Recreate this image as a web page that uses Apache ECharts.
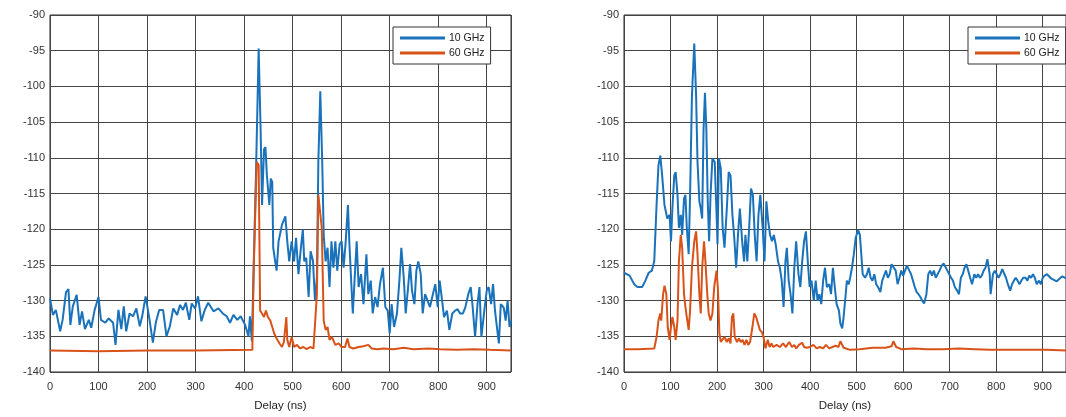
<!DOCTYPE html>
<html>
<head>
<meta charset="utf-8">
<script src="https://cdn.jsdelivr.net/npm/echarts@6/dist/echarts.min.js"></script>
<style>
  html, body { margin: 0; padding: 0; background: #fff; }
  #chart { width: 1066px; height: 417px; }
</style>
</head>
<body>
<div id="chart"></div>
<script>
// Power delay profiles: received power (dB) against delay (ns), two scenarios.
const seriesNames = ['10 GHz', '60 GHz'];
const delayRange = [0, 950];
const delayStep = 100;
const powerRange = [-140, -90];
const powerStep = 5;
const xAxisTitle = 'Delay (ns)';

// Scenario A — [delay ns, power dB]
const leftBlue = [[0,-129.7],[6,-132],[12,-131.3],[21,-134.3],[26,-132.7],[33,-128.8],[38,-128.4],[42,-133.4],[47,-130.8],[55,-129.2],[61,-133.4],[66,-131.5],[72,-134],[80,-132.7],[85,-133.8],[92,-131.3],[100,-129.5],[105,-132.7],[114,-133.1],[121,-132.5],[130,-133.1],[135,-136.2],[141,-131.3],[147,-134],[152,-130.8],[157,-134.3],[164,-131.8],[171,-132.2],[178,-131.1],[185,-133.6],[190,-132.2],[197,-129.4],[204,-132.2],[212,-135.9],[218,-133.1],[225,-131.3],[233,-131.3],[240,-135],[247,-133.6],[254,-131.1],[262,-132],[268,-130.6],[274,-131.3],[280,-130.3],[287,-132.7],[292,-130.4],[299,-131.1],[305,-129.4],[312,-132.9],[319,-131.3],[326,-130.3],[337,-131.5],[347,-131.1],[356,-131.8],[364,-132.2],[371,-133.1],[378,-132],[386,-132.7],[393,-132.2],[402,-133.4],[409,-135],[412,-132.2],[416,-135.7],[419,-135.5],[425,-110.6],[430,-94.7],[434,-106],[437,-116.6],[441,-108.8],[444,-108.5],[447,-112.5],[450,-112.5],[452,-116.6],[455,-112.9],[458,-113.4],[460,-122.6],[464,-124.5],[467,-125.8],[471,-121.7],[478,-119.4],[485,-118.2],[489,-121.7],[493,-124.5],[498,-121.7],[503,-124.5],[507,-121.2],[512,-126.3],[517,-122.6],[521,-120.1],[524,-124.5],[528,-124],[533,-129.5],[537,-123.1],[542,-124.5],[546,-130],[550,-126.8],[553,-110.6],[557,-100.7],[561,-110.6],[564,-120.8],[568,-124.5],[572,-122.6],[576,-128.1],[580,-121.7],[584,-125.4],[588,-121.7],[592,-125.8],[597,-122.1],[601,-121.7],[605,-125.4],[609,-122.1],[614,-116.6],[617,-122.1],[621,-127.7],[624,-131.8],[629,-125.4],[632,-121.7],[636,-128.1],[641,-126.3],[646,-130.5],[652,-123.5],[656,-129.1],[661,-127.2],[665,-131.8],[670,-129.5],[675,-130.9],[680,-127.7],[686,-125.4],[691,-130.9],[696,-131.4],[700,-134.6],[704,-130.5],[709,-133.7],[715,-131.8],[720,-127.2],[724,-122.6],[729,-126.8],[733,-131.8],[738,-128.1],[742,-124.9],[746,-128.6],[751,-130.5],[755,-125.8],[759,-124.5],[764,-126.3],[768,-131.8],[773,-129.1],[778,-130],[783,-130.9],[789,-129.1],[794,-127.7],[799,-130.9],[803,-127.2],[808,-130],[812,-132.3],[818,-131.4],[823,-134.1],[829,-131.8],[835,-131.4],[840,-131.2],[845,-131.8],[851,-131.8],[856,-130.9],[862,-129.1],[867,-128.1],[871,-130.9],[876,-135.1],[881,-130.5],[885,-128.1],[889,-135.1],[895,-131.4],[900,-128.6],[904,-128.1],[909,-130.5],[913,-127.7],[917,-131.4],[921,-133.7],[925,-136],[929,-130.5],[935,-131],[939,-132.8],[943,-130],[947,-133.7],[950,-132.8]];
const leftOrange = [[0,-137],[100,-137.1],[200,-137],[300,-137],[417,-136.9],[420,-125],[426,-110.6],[430,-111],[432,-124.5],[433,-131.4],[437,-131.8],[441,-132.3],[445,-131.4],[449,-132.3],[454,-132.8],[458,-133.7],[462,-134.6],[467,-135.3],[473,-136],[478,-136.5],[482,-135.8],[487,-132.3],[489,-135.5],[493,-136.5],[498,-135.1],[503,-136.5],[509,-136.2],[515,-136.7],[522,-136.5],[529,-136.8],[536,-136.5],[543,-136.7],[547,-136.5],[550,-129.1],[553,-115.2],[557,-115.2],[560,-119.8],[564,-132.8],[568,-134.1],[572,-133.7],[576,-135.5],[581,-135.1],[588,-136.2],[595,-136],[601,-136.5],[608,-136.5],[613,-135.3],[617,-136.5],[625,-136.7],[636,-136.5],[646,-136.4],[656,-136.2],[663,-136.7],[674,-136.8],[687,-136.7],[708,-136.8],[729,-136.6],[749,-136.8],[780,-136.7],[804,-136.8],[838,-136.9],[873,-136.8],[907,-136.9],[950,-137]];

// Scenario B — [delay ns, power dB]
const rightBlue = [[0,-126.1],[12,-126.5],[22,-127.7],[29,-128.1],[39,-128.1],[46,-127.2],[53,-126.1],[60,-125.8],[65,-124.5],[70,-116.6],[74,-111.1],[78,-109.7],[82,-112.5],[87,-116.6],[93,-118.5],[98,-118],[101,-121.7],[104,-117.1],[108,-112.5],[111,-112],[115,-115.2],[118,-119.8],[122,-118],[125,-120.8],[129,-115.7],[132,-115.2],[135,-119.8],[139,-123.5],[142,-115.2],[146,-101.4],[151,-94],[155,-101.4],[158,-110.6],[162,-116.1],[165,-117.1],[168,-118.5],[171,-106],[174,-100.9],[177,-106],[180,-116.1],[183,-121.7],[186,-115.2],[190,-110.1],[195,-110.6],[199,-118],[201,-122.1],[204,-110.1],[208,-111.5],[212,-119.8],[216,-122.6],[221,-117.1],[225,-112],[229,-112.5],[233,-118],[237,-121.2],[241,-125.4],[245,-120.8],[249,-117.1],[254,-121.7],[258,-124.5],[261,-120.8],[265,-124.5],[269,-119.8],[273,-114.3],[277,-115.2],[281,-120.8],[285,-124.5],[289,-118],[293,-115.2],[298,-119.8],[302,-124.5],[306,-116.1],[310,-118.9],[314,-120.8],[318,-121.7],[322,-120.8],[326,-122.1],[331,-124.5],[335,-125.4],[339,-127.2],[343,-130.9],[347,-124.5],[350,-122.6],[354,-127.2],[358,-129.1],[362,-131.8],[366,-125.4],[370,-121.7],[375,-126.3],[379,-128.1],[383,-124.5],[387,-121.7],[391,-120.3],[395,-124.5],[399,-128.1],[403,-127.2],[408,-130],[412,-127.2],[416,-130],[420,-129.1],[424,-130.5],[428,-127.2],[432,-125.4],[436,-128.1],[441,-127.7],[445,-129.1],[449,-125.4],[453,-128.1],[457,-130.5],[462,-131.4],[465,-133.2],[469,-133.9],[472,-132.3],[476,-129.5],[479,-127.2],[483,-127.7],[486,-126.8],[490,-125.4],[494,-123.5],[498,-121.2],[503,-120.1],[507,-120.8],[510,-123.5],[513,-126.3],[518,-126.8],[522,-126.3],[526,-125.4],[530,-126.8],[534,-127.2],[538,-126.3],[542,-127.7],[546,-128.1],[551,-128.8],[555,-127.2],[559,-126.5],[563,-125.8],[567,-126.8],[571,-126.3],[575,-124.9],[579,-124.7],[584,-125.8],[588,-127.7],[592,-126.8],[596,-125.8],[600,-126.5],[604,-126.3],[608,-125.1],[612,-124.9],[617,-126.3],[621,-127.2],[625,-128.1],[629,-128.8],[633,-129.1],[637,-129.5],[641,-130],[645,-130.4],[650,-129.1],[654,-126.3],[658,-125.8],[662,-126.5],[666,-125.8],[670,-126.8],[674,-126.3],[678,-125.8],[683,-125.1],[687,-124.8],[691,-124.9],[695,-125.8],[699,-126.3],[703,-126.8],[707,-127.2],[711,-128.1],[716,-128.6],[720,-129.1],[724,-126.8],[728,-126.3],[732,-125.4],[736,-124.9],[740,-125.1],[744,-126.8],[748,-127.7],[753,-126.3],[757,-126.8],[761,-126.3],[765,-126.8],[769,-126.5],[773,-125.8],[777,-125.4],[781,-124.2],[786,-126.3],[788,-129.1],[793,-126.3],[797,-125.8],[801,-126.3],[805,-126.8],[809,-126.3],[813,-125.6],[817,-125.4],[821,-126.8],[825,-127.7],[830,-128.6],[834,-127.7],[838,-127.2],[842,-126.8],[846,-127.2],[850,-127.7],[854,-127.2],[858,-126.8],[863,-126.8],[867,-127.2],[871,-126.5],[875,-126.8],[879,-126.3],[883,-126.8],[887,-127.7],[892,-127.2],[896,-127.7],[900,-126.8],[904,-126.5],[909,-126.3],[918,-126.9],[930,-127.3],[942,-126.6],[950,-126.9]];
const rightOrange = [[0,-136.8],[30,-136.8],[65,-136.7],[70,-135.1],[74,-132.8],[78,-131.8],[80,-132.8],[84,-129.1],[87,-127.9],[91,-129.1],[94,-133.7],[98,-135.5],[101,-133.7],[104,-132.3],[108,-133.7],[111,-135.5],[115,-132.8],[118,-124.5],[122,-120.8],[125,-122.6],[129,-129.1],[132,-130.9],[135,-132.3],[139,-134.1],[142,-131.4],[146,-125.4],[151,-121.7],[155,-120.3],[158,-123.5],[162,-129.1],[165,-131.8],[168,-125.4],[172,-121.7],[175,-124.5],[179,-129.1],[182,-131.8],[186,-132.8],[190,-131.8],[194,-128],[199,-125.8],[202,-128.5],[205,-134.6],[208,-135.8],[211,-135.5],[216,-135.1],[221,-135.8],[225,-135.3],[229,-136],[232,-132.3],[235,-131.8],[238,-135.1],[243,-135.8],[247,-135.3],[251,-135.8],[255,-135.5],[259,-136.2],[263,-135.5],[267,-136.2],[271,-135.8],[276,-133.7],[280,-131.8],[284,-132.3],[288,-133.2],[292,-134.1],[296,-134.4],[300,-135.1],[304,-136.7],[309,-135.5],[313,-136.5],[317,-136],[321,-136.5],[328,-136.2],[335,-136.5],[342,-136],[348,-136.5],[355,-135.8],[361,-136.5],[366,-136.2],[370,-136.7],[376,-136.2],[383,-135.9],[387,-136.5],[393,-136.6],[400,-136.5],[407,-136.2],[414,-136.7],[421,-136.5],[428,-136.7],[434,-136.2],[441,-136.7],[448,-136.5],[455,-136.3],[461,-136.5],[465,-135.7],[472,-136.6],[486,-136.9],[507,-136.8],[534,-136.6],[562,-136.6],[575,-136.4],[579,-135.7],[585,-136.5],[596,-136.8],[623,-136.7],[651,-136.8],[685,-136.8],[720,-136.7],[754,-136.8],[788,-136.9],[823,-136.9],[857,-136.9],[909,-136.9],[950,-137]];

const BLUE = '#1a72bb';
const ORANGE = '#d95319';
const FONT = '"Liberation Sans", Arial, Helvetica, sans-serif';

const panels = [
  { left: 50, blue: leftBlue, orange: leftOrange, legendLeft: 393 },
  { left: 624, blue: rightBlue, orange: rightOrange, legendLeft: 968 }
];

const grid = panels.map(p => ({
  left: p.left, top: 15, width: 461, height: 360,
  show: true, borderColor: '#262626', borderWidth: 1, backgroundColor: 'transparent'
}));

const xAxis = panels.map((p, i) => ({
  type: 'value', gridIndex: i,
  min: delayRange[0], max: delayRange[1], interval: delayStep,
  name: xAxisTitle, nameLocation: 'middle', nameGap: 28,
  nameTextStyle: { fontFamily: FONT, fontSize: 11.5, color: '#222' },
  axisLine: { show: false }, axisTick: { show: false },
  axisLabel: { fontFamily: FONT, fontSize: 11, color: '#333', margin: 9, showMaxLabel: false },
  splitLine: { show: true, lineStyle: { color: '#444', width: 1 } }
}));

const yAxis = panels.map((p, i) => ({
  type: 'value', gridIndex: i,
  min: powerRange[0], max: powerRange[1], interval: powerStep,
  axisLine: { show: false }, axisTick: { show: false },
  axisLabel: { fontFamily: FONT, fontSize: 11, color: '#333', margin: 5 },
  splitLine: { show: true, lineStyle: { color: '#444', width: 1 } }
}));

const series = [];
panels.forEach((p, i) => {
  [[seriesNames[0], p.blue, BLUE], [seriesNames[1], p.orange, ORANGE]].forEach(([name, data, color]) => {
    series.push({
      name, type: 'line', xAxisIndex: i, yAxisIndex: i,
      data, showSymbol: false, smooth: false, animation: false,
      lineStyle: { color, width: 2 }, itemStyle: { color }
    });
  });
});

const legend = panels.map(p => ({
  data: seriesNames, orient: 'vertical',
  left: p.legendLeft, top: 27,
  icon: 'rect', itemWidth: 45, itemHeight: 3, itemGap: 3,
  padding: [5, 6, 5, 7],
  backgroundColor: '#fff', borderColor: '#333', borderWidth: 1, borderRadius: 0,
  textStyle: { fontFamily: FONT, fontSize: 10.5, color: '#222', lineHeight: 12, padding: [0, 0, 0, -1] },
  selectedMode: false
}));

const chart = echarts.init(document.getElementById('chart'), null, { renderer: 'canvas' });
chart.setOption({
  backgroundColor: '#fff',
  animation: false,
  grid, xAxis, yAxis, series, legend
});
</script>
</body>
</html>
